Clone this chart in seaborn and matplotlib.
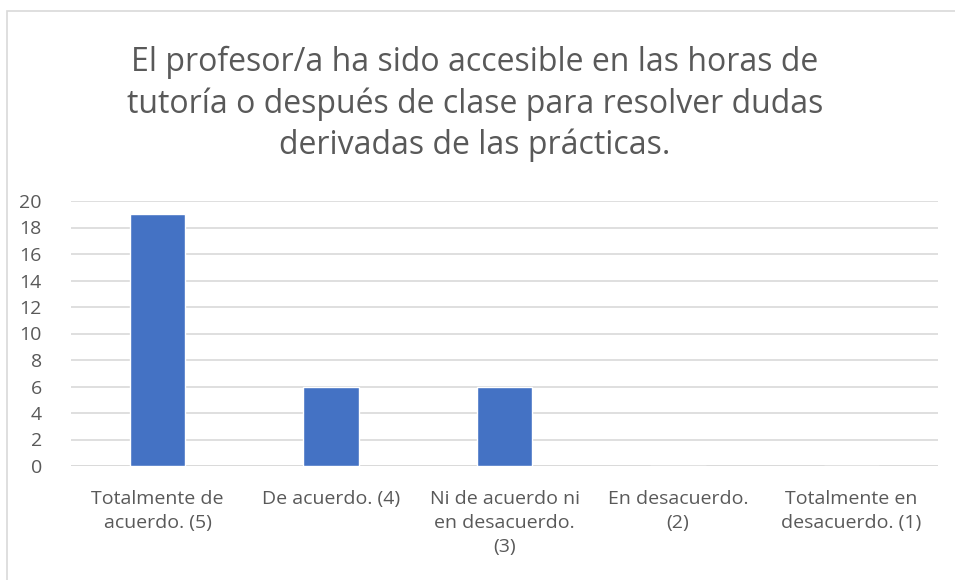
import matplotlib
matplotlib.use("Agg")
import matplotlib.pyplot as plt
import seaborn as sns
import pandas as pd

# data
categorias = [
    "Totalmente de\nacuerdo. (5)",
    "De acuerdo. (4)",
    "Ni de acuerdo ni\nen desacuerdo.\n(3)",
    "En desacuerdo.\n(2)",
    "Totalmente en\ndesacuerdo. (1)",
]
respuestas = [19, 6, 6, 0, 0]
y_ticks = list(range(0, 21, 2))
titulo = ("El profesor/a ha sido accesible en las horas de\n"
          "tutoría o después de clase para resolver dudas\n"
          "derivadas de las prácticas.")

df = pd.DataFrame({"cat": categorias, "n": respuestas})

sns.set_theme(style="white")
plt.rcParams['font.family'] = ['Open Sans', 'DejaVu Sans']

W, H = 955, 580
fig = plt.figure(figsize=(W / 100, H / 100), dpi=100)
ax = fig.add_axes([71 / W, 1 - 466 / H, (938 - 71) / W, (466 - 201) / H])

sns.barplot(data=df, x="cat", y="n", color="#4472C4", width=0.32,
            saturation=1, ax=ax, zorder=3)

ax.set_ylim(0, 20)
ax.set_yticks(y_ticks)
ax.set_xlim(-0.5, len(categorias) - 0.5)
ax.yaxis.grid(True, color="#D9D9D9", linewidth=1.2, zorder=0)
ax.set_xlabel("")
ax.set_ylabel("")
for s in ax.spines.values():
    s.set_visible(False)
ax.axhline(0, color="#D9D9D9", linewidth=1.2, zorder=1)
ax.tick_params(axis="both", length=0, labelsize=14, colors="#595959")
ax.tick_params(axis="x", pad=17)
ax.tick_params(axis="y", pad=21)
for lbl in ax.get_xticklabels():
    lbl.set_linespacing(1.45)
    lbl.set_verticalalignment("top")

fig.text(475 / W, 1 - 104 / H, titulo, ha="center", va="center",
         fontsize=23, color="#595959", linespacing=1.3)

# chart border (only top/left visible in the original)
fig.add_artist(plt.Rectangle((7 / W, -0.05), 1.1, 1.05 - 11 / H,
                             transform=fig.transFigure, fill=False,
                             edgecolor="#D9D9D9", linewidth=1.2))

fig.savefig("out.png", dpi=100)
